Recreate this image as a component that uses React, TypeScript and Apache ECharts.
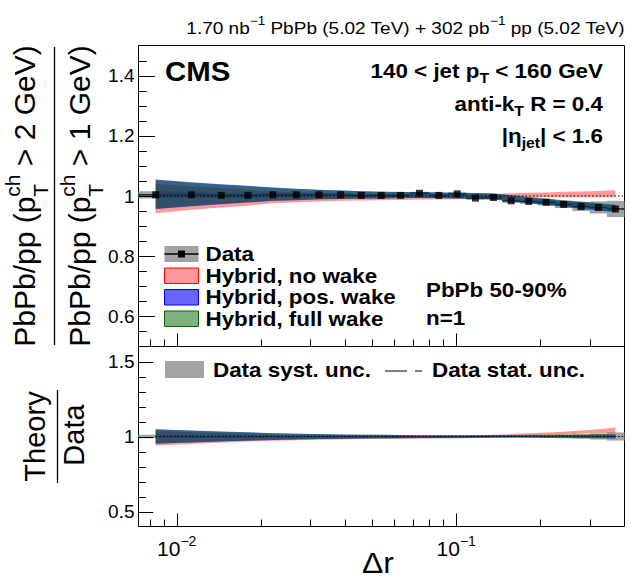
import React, { useEffect, useRef } from "react";
import * as echarts from "echarts";

const W = 631;
const H = 579;
const FONT = "Liberation Sans, Arial, Helvetica, sans-serif";

// ---------------- data ----------------
const deltaR = [0.00841, 0.01129, 0.01444, 0.01798, 0.02209, 0.02679, 0.03227, 0.03858, 0.04574, 0.05394, 0.06322, 0.0739, 0.08667, 0.1008, 0.1172, 0.1359, 0.1573, 0.1818, 0.2099, 0.2424, 0.2798, 0.3227, 0.3712];
const binEdges = [0.0073, 0.00974, 0.01277, 0.01611, 0.01993, 0.02433, 0.0294, 0.03528, 0.04201, 0.04967, 0.0584, 0.06835, 0.08003, 0.09347, 0.1087, 0.1262, 0.1462, 0.1691, 0.1953, 0.2256, 0.2604, 0.3005, 0.3461, 0.4];
const dataRatio = [1.004, 1.004, 1.002, 1.002, 1.004, 1.004, 1.004, 1.004, 1.002, 1.002, 1.002, 1.009, 1.002, 1.007, 0.993, 0.995, 0.984, 0.982, 0.979, 0.972, 0.965, 0.962, 0.957];
const dataSyst = [0.012, 0.01, 0.009, 0.008, 0.007, 0.006, 0.006, 0.005, 0.005, 0.005, 0.005, 0.005, 0.005, 0.005, 0.006, 0.006, 0.007, 0.008, 0.01, 0.012, 0.015, 0.02, 0.027];

const noWakeLo = [0.943, 0.954, 0.962, 0.968, 0.976, 0.979, 0.982, 0.984, 0.985, 0.986, 0.987, 0.988, 0.988, 0.989, 0.99, 0.991, 0.993, 0.995, 0.996, 0.996, 0.996, 0.996, 0.996];
const noWakeHi = [1.04, 1.032, 1.026, 1.021, 1.016, 1.013, 1.011, 1.009, 1.008, 1.007, 1.007, 1.006, 1.006, 1.006, 1.006, 1.007, 1.009, 1.011, 1.012, 1.014, 1.015, 1.017, 1.019];
const posWakeLo = [0.957, 0.966, 0.973, 0.978, 0.984, 0.986, 0.989, 0.99, 0.992, 0.992, 0.993, 0.993, 0.993, 0.992, 0.991, 0.988, 0.982, 0.976, 0.97, 0.964, 0.958, 0.952, 0.946];
const posWakeHi = [1.055, 1.046, 1.039, 1.034, 1.028, 1.024, 1.021, 1.018, 1.016, 1.014, 1.013, 1.013, 1.012, 1.011, 1.01, 1.008, 1.002, 0.996, 0.99, 0.984, 0.98, 0.974, 0.969];
const fullWakeLo = [0.958, 0.967, 0.974, 0.979, 0.984, 0.987, 0.989, 0.99, 0.992, 0.992, 0.993, 0.993, 0.993, 0.992, 0.991, 0.988, 0.983, 0.977, 0.971, 0.966, 0.96, 0.954, 0.949];
const fullWakeHi = [1.052, 1.044, 1.037, 1.032, 1.027, 1.023, 1.02, 1.018, 1.016, 1.014, 1.013, 1.013, 1.012, 1.011, 1.01, 1.008, 1.003, 0.997, 0.992, 0.986, 0.982, 0.977, 0.972];

const noWakeRatioLo = [0.94, 0.95, 0.96, 0.966, 0.972, 0.975, 0.978, 0.98, 0.983, 0.984, 0.985, 0.985, 0.986, 0.987, 0.99, 0.993, 0.998, 1.004, 1.009, 1.014, 1.018, 1.021, 1.023];
const noWakeRatioHi = [1.036, 1.028, 1.024, 1.019, 1.012, 1.009, 1.007, 1.005, 1.006, 1.005, 1.005, 1.004, 1.004, 1.004, 1.007, 1.011, 1.016, 1.022, 1.027, 1.032, 1.04, 1.049, 1.06];
const posWakeRatioLo = [0.952, 0.96, 0.967, 0.972, 0.977, 0.98, 0.983, 0.985, 0.987, 0.988, 0.989, 0.99, 0.99, 0.991, 0.992, 0.993, 0.993, 0.993, 0.992, 0.991, 0.99, 0.989, 0.986];
const posWakeRatioHi = [1.048, 1.04, 1.033, 1.028, 1.022, 1.019, 1.016, 1.014, 1.012, 1.011, 1.01, 1.009, 1.009, 1.008, 1.008, 1.008, 1.009, 1.009, 1.009, 1.01, 1.01, 1.011, 1.012];
const fullWakeRatioLo = [0.953, 0.961, 0.968, 0.973, 0.978, 0.981, 0.983, 0.985, 0.987, 0.988, 0.989, 0.99, 0.99, 0.991, 0.992, 0.993, 0.994, 0.995, 0.995, 0.995, 0.995, 0.994, 0.993];
const fullWakeRatioHi = [1.046, 1.038, 1.031, 1.026, 1.021, 1.018, 1.015, 1.013, 1.012, 1.011, 1.01, 1.009, 1.009, 1.008, 1.008, 1.009, 1.01, 1.011, 1.012, 1.013, 1.014, 1.015, 1.016];

// axes / ticks
const xRange = [0.0073, 0.4];
const topYRange = [0.5, 1.5];
const botYRange = [0.4, 1.6];
const topYLabels = [0.6, 0.8, 1, 1.2, 1.4];
const topYMinor = [0.55, 0.65, 0.7, 0.75, 0.85, 0.9, 0.95, 1.05, 1.1, 1.15, 1.25, 1.3, 1.35, 1.45];
const botYLabels = [0.5, 1, 1.5];
const botYMinor = [0.6, 0.7, 0.8, 0.9, 1.1, 1.2, 1.3, 1.4];
const xMajorTicks = [0.01, 0.1];
const xMinorTicks = [0.008, 0.009, 0.02, 0.03, 0.04, 0.05, 0.06, 0.07, 0.08, 0.09, 0.2, 0.3];
const xLabelExps = ["\u22122", "\u22121"];
const unityLine = [0.0084, 0.395];

// colours
const RED = "rgba(255,0,0,0.4)";
const BLUE = "rgba(0,0,255,0.6)";
const GREEN = "rgba(0,100,0,0.5)";
const GRAY = "#a3a3a3";

// ---------------- helpers ----------------
let ctx: CanvasRenderingContext2D | null = null;
function measure(t: string, s: number, w: string) {
  if (!ctx) ctx = document.createElement("canvas").getContext("2d");
  ctx!.font = `${w} ${s}px ${FONT}`;
  return ctx!.measureText(t).width;
}

type Piece = { t: string; s: number; dy?: number; hold?: boolean };
function textRun(
  pieces: Piece[],
  opt: { x: number; y: number; align: "left" | "right" | "center"; rotation?: number; scaleX?: number; weight?: string }
) {
  const wgt = opt.weight || "normal";
  let cx = 0;
  let pend = 0;
  const kids: any[] = [];
  for (const p of pieces) {
    const width = measure(p.t, p.s, wgt);
    kids.push({
      type: "text",
      x: cx,
      y: p.dy || 0,
      style: {
        text: p.t,
        fontSize: p.s,
        fontFamily: FONT,
        fontWeight: wgt,
        fill: "#000",
        textAlign: "left",
        textVerticalAlign: "middle",
        align: "left",
        verticalAlign: "middle",
      },
    });
    if (p.hold) pend = Math.max(pend, width);
    else {
      cx += Math.max(width, pend);
      pend = 0;
    }
  }
  const off = opt.align === "left" ? 0 : opt.align === "right" ? -cx : -cx / 2;
  kids.forEach((k) => (k.x += off));
  return {
    type: "group",
    x: opt.x,
    y: opt.y,
    rotation: opt.rotation || 0,
    scaleX: opt.scaleX || 1,
    children: kids,
  };
}

const r2 = (v: number) => Math.round(v * 1000) / 1000;

function bandSeries(grid: number, lo: number[], hi: number[], color: string) {
  return {
    type: "custom",
    xAxisIndex: grid,
    yAxisIndex: grid,
    silent: true,
    data: deltaR.map((x, i) => [x, lo[i], hi[i]]),
    renderItem: (params: any, api: any) => {
      if (params.dataIndex !== 0) return null;
      const pts: number[][] = [];
      for (let i = 0; i < deltaR.length; i++) pts.push(api.coord([deltaR[i], hi[i]]));
      for (let i = deltaR.length - 1; i >= 0; i--) pts.push(api.coord([deltaR[i], lo[i]]));
      return { type: "polygon", shape: { points: pts }, style: { fill: color } };
    },
  };
}

function systSeries(grid: number, centre: number[] | null) {
  return {
    type: "custom",
    xAxisIndex: grid,
    yAxisIndex: grid,
    silent: true,
    data: deltaR.map((x, i) => [binEdges[i], centre ? centre[i] : 1, binEdges[i + 1], dataSyst[i]]),
    renderItem: (params: any, api: any) => {
      const y = api.value(1);
      const hw = api.value(3);
      const p1 = api.coord([api.value(0), y + hw]);
      const p2 = api.coord([api.value(2), y - hw]);
      return {
        type: "rect",
        shape: { x: p1[0], y: p1[1], width: p2[0] - p1[0], height: p2[1] - p1[1] },
        style: { fill: GRAY },
      };
    },
  };
}

function unitySeries(grid: number) {
  return {
    type: "line",
    xAxisIndex: grid,
    yAxisIndex: grid,
    silent: true,
    symbol: "none",
    data: unityLine.map((x) => [x, 1]),
    lineStyle: { color: "#000", width: 1.2, type: [1.5, 2.2] },
  };
}

function xTickSeries(grid: number, vals: number[], yBase: number, len: number) {
  return {
    type: "custom",
    xAxisIndex: grid,
    yAxisIndex: grid,
    silent: true,
    data: vals.map((v) => [v, yBase]),
    renderItem: (params: any, api: any) => {
      const p = api.coord([api.value(0), api.value(1)]);
      const x = Math.round(p[0]) + 0.5;
      return { type: "line", shape: { x1: x, y1: p[1], x2: x, y2: p[1] - len }, style: { stroke: "#000", lineWidth: 1 } };
    },
  };
}

function yTickSeries(grid: number, vals: number[], len: number) {
  return {
    type: "custom",
    xAxisIndex: grid,
    yAxisIndex: grid,
    silent: true,
    data: vals.map((v) => [xRange[0], v]),
    renderItem: (params: any, api: any) => {
      const p = api.coord([api.value(0), api.value(1)]);
      const y = Math.round(p[1]) + 0.5;
      return { type: "line", shape: { x1: p[0], y1: y, x2: p[0] + len, y2: y }, style: { stroke: "#000", lineWidth: 1 } };
    },
  };
}

function buildOption(): any {
  const gridL = 138.5;
  const gridW = 486;
  const grids = [
    { left: gridL, top: 45.5, width: gridW, height: 301, show: true, borderColor: "#000", borderWidth: 1, backgroundColor: "rgba(0,0,0,0)" },
    { left: gridL, top: 346.5, width: gridW, height: 180, show: true, borderColor: "#000", borderWidth: 1, backgroundColor: "rgba(0,0,0,0)" },
  ];
  const xAxes = [0, 1].map((g) => ({
    type: "log",
    logBase: 10,
    gridIndex: g,
    min: xRange[0],
    max: xRange[1],
    axisLine: { show: false },
    axisTick: { show: false },
    axisLabel: { show: false },
    splitLine: { show: false },
  }));
  const yLab = (labels: number[]) => ({
    fontSize: 19,
    fontFamily: FONT,
    color: "#000",
    margin: 4,
    formatter: (v: number) => (labels.some((l) => Math.abs(l - v) < 1e-6) ? String(r2(v)) : ""),
  });
  const yAxes = [
    { type: "value", gridIndex: 0, min: topYRange[0], max: topYRange[1], interval: 0.1, axisLine: { show: false }, axisTick: { show: false }, splitLine: { show: false }, axisLabel: yLab(topYLabels) },
    { type: "value", gridIndex: 1, min: botYRange[0], max: botYRange[1], interval: 0.1, axisLine: { show: false }, axisTick: { show: false }, splitLine: { show: false }, axisLabel: yLab(botYLabels) },
  ];

  const series: any[] = [
    // ---- top panel ----
    systSeries(0, dataRatio),
    {
      type: "custom",
      xAxisIndex: 0,
      yAxisIndex: 0,
      silent: true,
      data: deltaR.map((x, i) => [binEdges[i], dataRatio[i], binEdges[i + 1]]),
      renderItem: (params: any, api: any) => {
        const p1 = api.coord([api.value(0), api.value(1)]);
        const p2 = api.coord([api.value(2), api.value(1)]);
        return { type: "line", shape: { x1: p1[0], y1: p1[1], x2: p2[0], y2: p2[1] }, style: { stroke: "#000", lineWidth: 1.3 } };
      },
    },
    {
      type: "scatter",
      xAxisIndex: 0,
      yAxisIndex: 0,
      silent: true,
      symbol: "rect",
      symbolSize: 7,
      itemStyle: { color: "#000" },
      data: deltaR.map((x, i) => [x, dataRatio[i]]),
    },
    bandSeries(0, noWakeLo, noWakeHi, RED),
    bandSeries(0, posWakeLo, posWakeHi, BLUE),
    bandSeries(0, fullWakeLo, fullWakeHi, GREEN),
    unitySeries(0),
    xTickSeries(0, xMajorTicks, topYRange[0], 13),
    xTickSeries(0, xMinorTicks, topYRange[0], 7),
    yTickSeries(0, topYLabels, 16.5),
    yTickSeries(0, topYMinor, 8.3),
    // ---- bottom panel ----
    systSeries(1, null),
    bandSeries(1, noWakeRatioLo, noWakeRatioHi, RED),
    bandSeries(1, posWakeRatioLo, posWakeRatioHi, BLUE),
    bandSeries(1, fullWakeRatioLo, fullWakeRatioHi, GREEN),
    unitySeries(1),
    xTickSeries(1, xMajorTicks, botYRange[0], 13),
    xTickSeries(1, xMinorTicks, botYRange[0], 7),
    yTickSeries(1, botYLabels, 14.7),
    yTickSeries(1, botYMinor, 7.3),
    {
      type: "custom",
      xAxisIndex: 1,
      yAxisIndex: 1,
      silent: true,
      data: xMajorTicks.map((v) => [v, botYRange[0]]),
      renderItem: (params: any, api: any) => {
        const p = api.coord([api.value(0), api.value(1)]);
        const exp = xLabelExps[params.dataIndex];
        const w1 = measure("10", 21, "normal");
        const w2 = measure(exp, 14, "normal");
        const start = -(w1 + w2) / 2;
        const st = (t: string, s: number) => ({
          text: t,
          fontSize: s,
          fontFamily: FONT,
          fill: "#000",
          textAlign: "left",
          textVerticalAlign: "middle",
          align: "left",
          verticalAlign: "middle",
        });
        return {
          type: "group",
          x: p[0],
          y: p[1],
          children: [
            { type: "text", x: start, y: 21.5, style: st("10", 21) },
            { type: "text", x: start + w1, y: 14.5, style: st(exp, 14) },
          ],
        };
      },
    },
  ];

  const B = "bold";
  const legendText = (t: string, x: number, y: number) =>
    textRun([{ t, s: 20 }], { x, y, align: "left", weight: B, scaleX: 1.12 });

  const elements: any[] = [
    // header
    textRun(
      [
        { t: "1.70 nb", s: 17 },
        { t: "\u22121", s: 12, dy: -7 },
        { t: " PbPb (5.02 TeV) + 302 pb", s: 17 },
        { t: "\u22121", s: 12, dy: -7 },
        { t: " pp (5.02 TeV)", s: 17 },
      ],
      { x: 625, y: 28, align: "right", scaleX: 1.12 }
    ),
    textRun([{ t: "CMS", s: 28 }], { x: 165, y: 71, align: "left", weight: B, scaleX: 1.05 }),
    textRun(
      [
        { t: "140 < jet p", s: 20 },
        { t: "T", s: 14, dy: 7 },
        { t: " < 160 GeV", s: 20 },
      ],
      { x: 603, y: 71, align: "right", weight: B, scaleX: 1.12 }
    ),
    textRun(
      [
        { t: "anti-k", s: 20 },
        { t: "T", s: 14, dy: 7 },
        { t: " R = 0.4", s: 20 },
      ],
      { x: 603, y: 104, align: "right", weight: B, scaleX: 1.12 }
    ),
    textRun(
      [
        { t: "|\u03b7", s: 20 },
        { t: "jet", s: 14, dy: 7 },
        { t: "| < 1.6", s: 20 },
      ],
      { x: 603, y: 136, align: "right", weight: B, scaleX: 1.12 }
    ),
    // top legend
    { type: "rect", shape: { x: 164.5, y: 246, width: 34, height: 16 }, style: { fill: GRAY } },
    { type: "line", shape: { x1: 164.5, y1: 254, x2: 198.5, y2: 254 }, style: { stroke: "#000", lineWidth: 1.5 } },
    { type: "rect", shape: { x: 178, y: 250.5, width: 7, height: 7 }, style: { fill: "#000" } },
    { type: "rect", shape: { x: 164.5, y: 268, width: 34, height: 15.5 }, style: { fill: RED, stroke: "#ff0000", lineWidth: 1 } },
    { type: "rect", shape: { x: 164.5, y: 289.5, width: 34, height: 15.5 }, style: { fill: BLUE, stroke: "#0000ff", lineWidth: 1 } },
    { type: "rect", shape: { x: 164.5, y: 311, width: 34, height: 15.5 }, style: { fill: GREEN, stroke: "#006400", lineWidth: 1 } },
    legendText("Data", 205.5, 254),
    legendText("Hybrid, no wake", 205.5, 275.5),
    legendText("Hybrid, pos. wake", 205.5, 297),
    legendText("Hybrid, full wake", 205.5, 319),
    legendText("PbPb 50-90%", 426, 290),
    legendText("n=1", 426, 318),
    // bottom legend
    { type: "rect", shape: { x: 165, y: 361, width: 39, height: 17 }, style: { fill: GRAY } },
    legendText("Data syst. unc.", 213, 370),
    { type: "line", shape: { x1: 385, y1: 371, x2: 407, y2: 371 }, style: { stroke: "#000", lineWidth: 1 } },
    { type: "line", shape: { x1: 415, y1: 371, x2: 422, y2: 371 }, style: { stroke: "#000", lineWidth: 1 } },
    legendText("Data stat. unc.", 432, 370),
    // y titles (top)
    textRun(
      [
        { t: "PbPb/pp (p", s: 30 },
        { t: "T", s: 21, dy: 16, hold: true },
        { t: "ch", s: 21, dy: -12 },
        { t: " > 2 GeV)", s: 30 },
      ],
      { x: 24.6, y: 196, align: "center", rotation: Math.PI / 2 }
    ),
    { type: "line", shape: { x1: 54.5, y1: 47, x2: 54.5, y2: 345 }, style: { stroke: "#000", lineWidth: 1.3 } },
    textRun(
      [
        { t: "PbPb/pp (p", s: 30 },
        { t: "T", s: 21, dy: 16, hold: true },
        { t: "ch", s: 21, dy: -12 },
        { t: " > 1 GeV)", s: 30 },
      ],
      { x: 79.6, y: 196, align: "center", rotation: Math.PI / 2 }
    ),
    // y titles (bottom)
    textRun([{ t: "Theory", s: 29 }], { x: 35, y: 436.5, align: "center", rotation: Math.PI / 2 }),
    { type: "line", shape: { x1: 57.5, y1: 390, x2: 57.5, y2: 483 }, style: { stroke: "#000", lineWidth: 1.3 } },
    textRun([{ t: "Data", s: 29 }], { x: 73.5, y: 435, align: "center", rotation: Math.PI / 2 }),
    // x title
    textRun([{ t: "\u0394r", s: 29 }], { x: 378, y: 563, align: "center", scaleX: 1.1 }),
  ];

  return {
    animation: false,
    backgroundColor: "#fff",
    grid: grids,
    xAxis: xAxes,
    yAxis: yAxes,
    series,
    graphic: { elements: elements.map((e) => ({ ...e, z: 100 })) },
  };
}

export default function App() {
  const ref = useRef<HTMLDivElement>(null);
  useEffect(() => {
    const chart = echarts.init(ref.current!, null, { renderer: "svg", width: W, height: H });
    chart.setOption(buildOption());
    return () => chart.dispose();
  }, []);
  return <div ref={ref} style={{ position: "fixed", left: 0, top: 0, width: W, height: H, background: "#fff" }} />;
}
